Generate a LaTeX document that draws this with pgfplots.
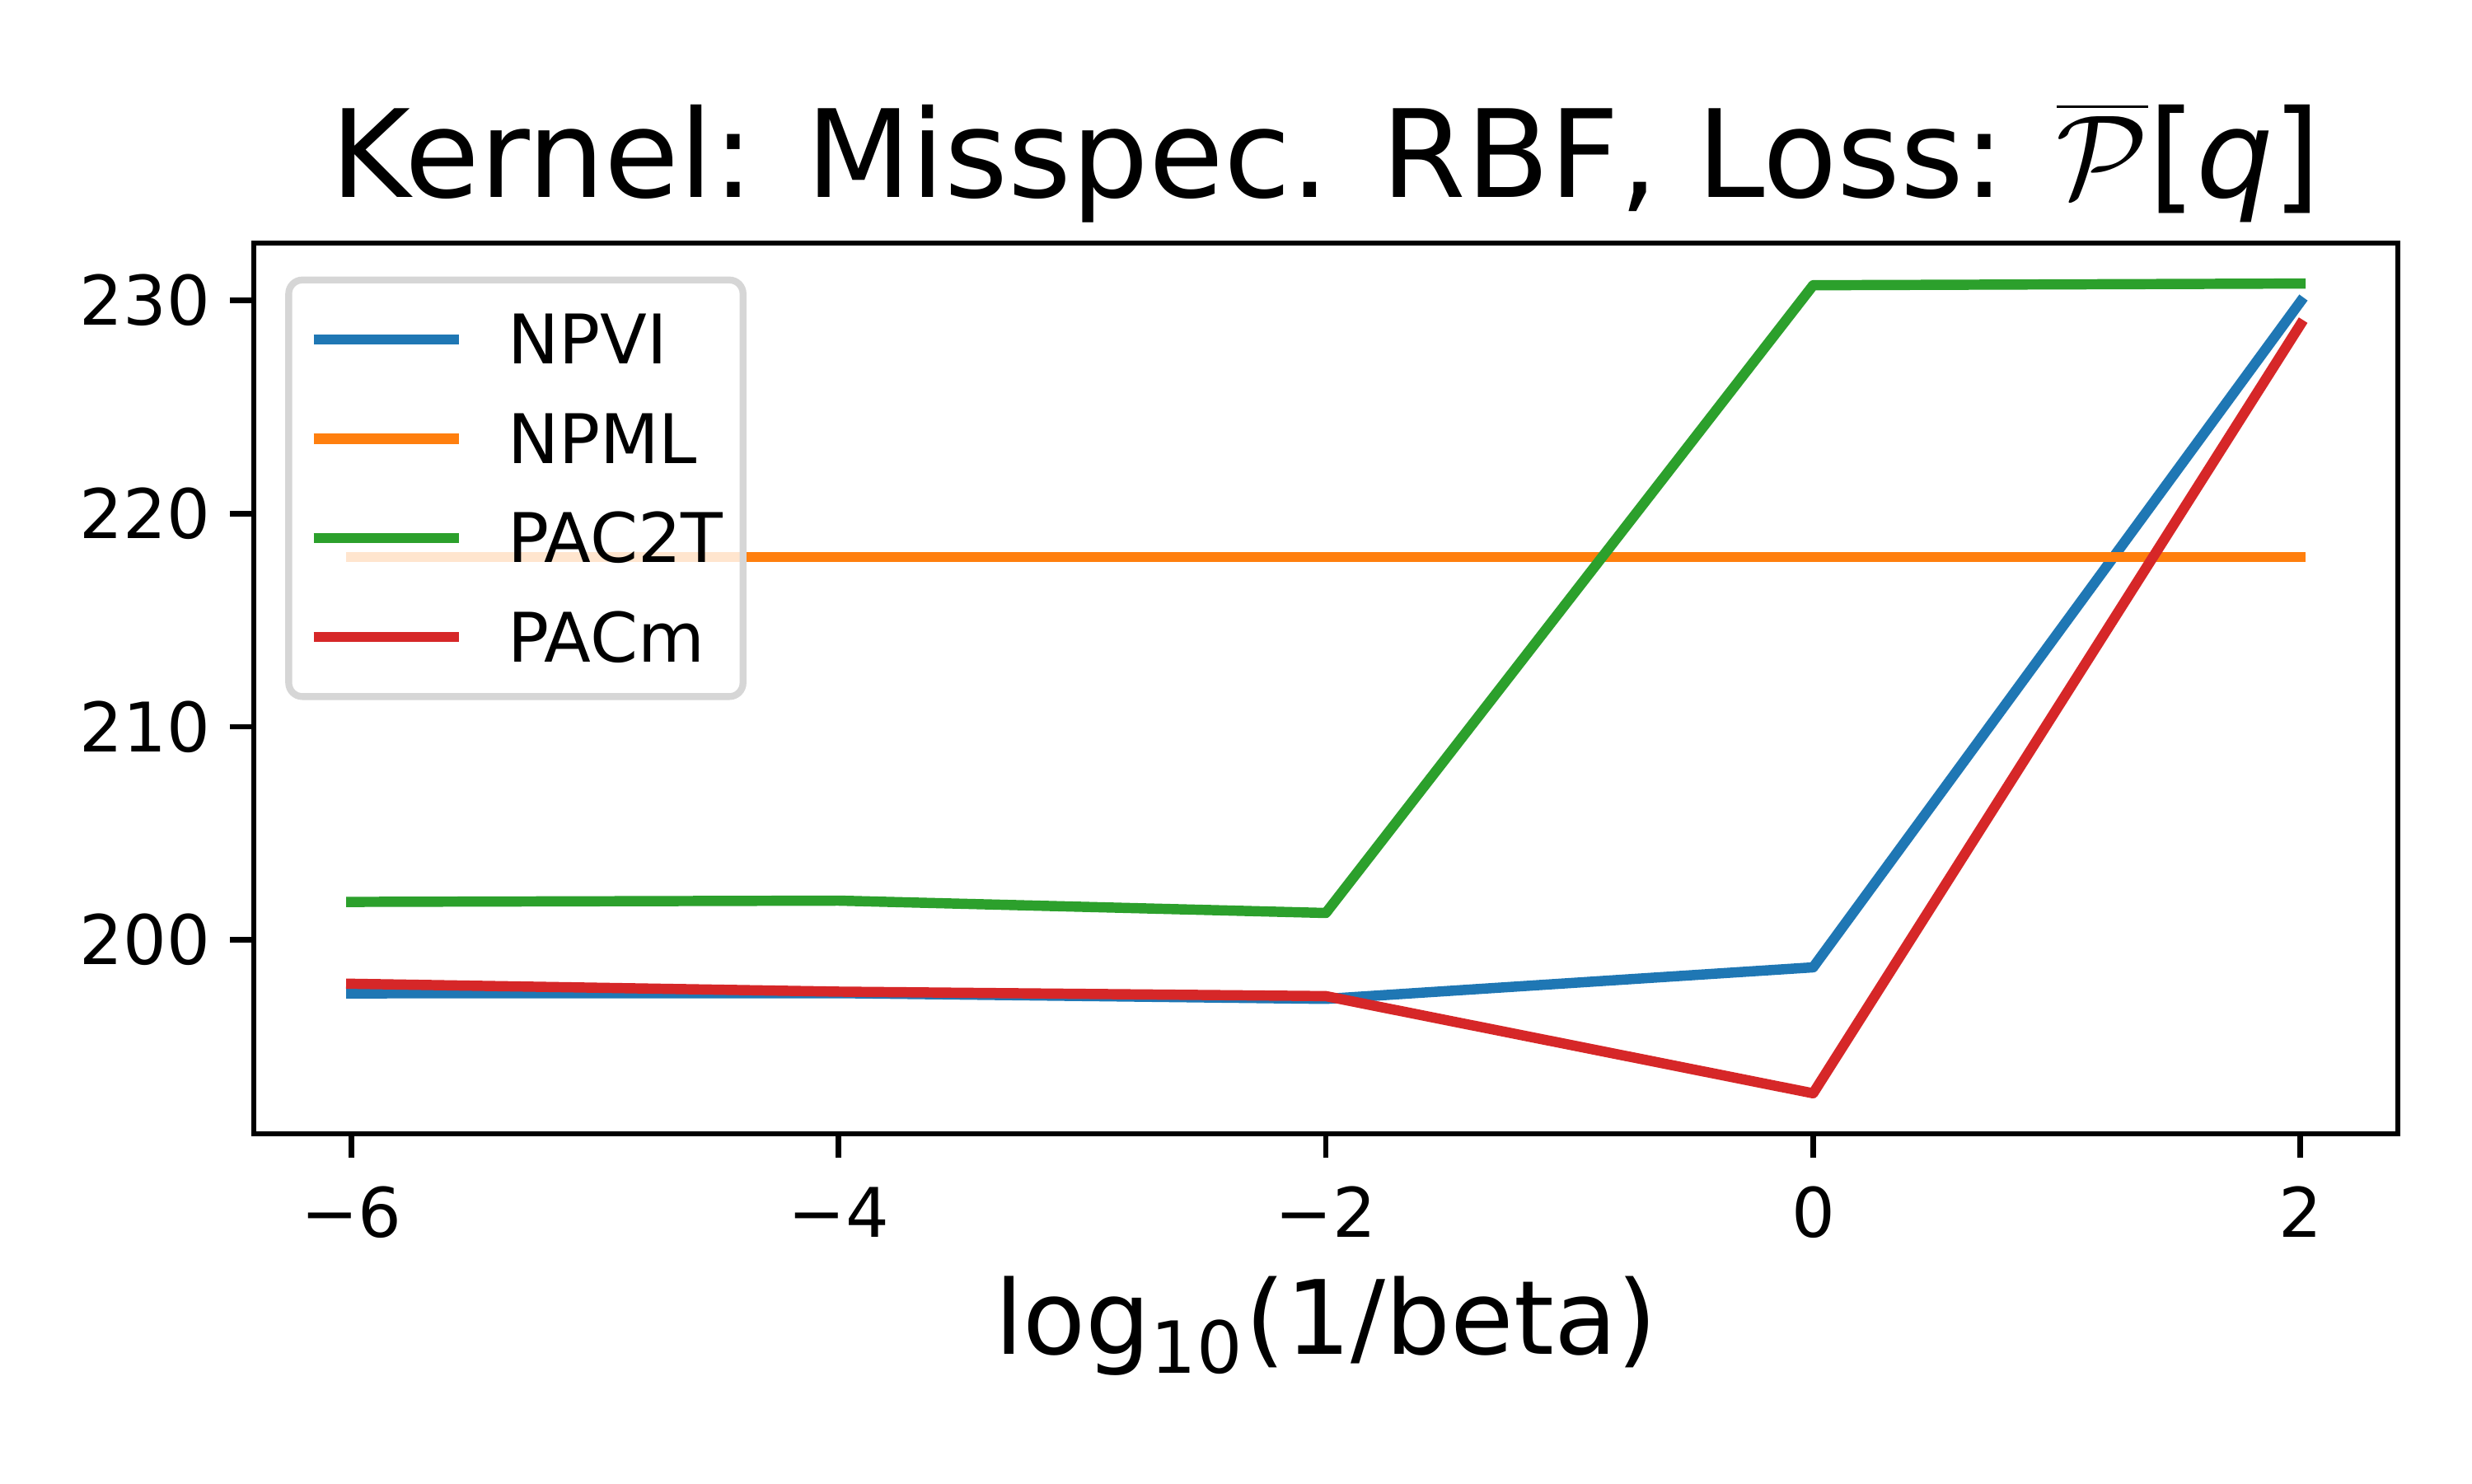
\documentclass[border=0pt]{standalone}
\usepackage{pgfplots}
\pgfplotsset{compat=1.18}
\usepackage{fontspec}
\setmainfont{DejaVu Sans}
\definecolor{c0}{HTML}{1F77B4}
\definecolor{c1}{HTML}{FF7F0E}
\definecolor{c2}{HTML}{2CA02C}
\definecolor{c3}{HTML}{D62728}
\definecolor{legframe}{HTML}{D6D6D6}
\begin{document}
\begin{tikzpicture}
\begin{axis}[
  scale only axis, width=313.42pt, height=130.21pt,
  xmin=-6.4, xmax=2.4, ymin=190.90, ymax=232.69,
  xtick={-6,-4,-2,0,2}, xticklabels={−6,−4,−2,0,2},
  ytick={200,210,220,230},
  /pgf/number format/assume math mode=true,
  tick align=outside, major tick length=3.5pt,
  xtick pos=bottom, ytick pos=left,
  every tick/.style={black, line width=0.8pt},
  axis line style={line width=0.8pt},
  ticklabel style={font=\fontsize{10}{12}\selectfont},
  xticklabel style={anchor=base, inner sep=0pt, yshift=-11.6pt},
  yticklabel style={anchor=east, inner sep=0pt, xshift=-2.7pt},
  title={Kernel: Misspec. RBF, Loss: \(\overline{\mathcal{P}}\)[\textit{q}]},
  title style={at={(axis description cs:0.5,1)}, anchor=base, inner sep=0pt, yshift=0.7pt, font=\fontsize{17.8}{21.6}\selectfont},
  xlabel={log\textsubscript{10}(1/beta)},
  xlabel style={at={(axis description cs:0.5,0)}, anchor=base, inner sep=0pt, yshift=-32.2pt, font=\fontsize{15}{18}\selectfont},
  legend cell align=left,
  legend style={
    at={(axis description cs:0.0147,0.9624)}, anchor=north west,
    draw=legframe, line width=1pt, fill=white, fill opacity=0.8, text opacity=1,
    rounded corners=2pt, inner xsep=2.9pt, inner ysep=3.7pt,
    row sep=4.5pt, column sep=6.4pt,
    font=\fontsize{10}{12}\selectfont,
    nodes={inner sep=0pt, text height=8.6pt, text depth=1.4pt},
  },
  legend image code/.code={\draw[#1, line width=1.5pt, line cap=butt] (0pt,0pt) -- (21.2pt,0pt);},
  every axis plot/.append style={line width=1.5pt, line cap=rect, line join=round, mark=none},
]
\addplot[c0] coordinates {(-6,197.49) (-4,197.50) (-2,197.23) (0,198.71) (2,229.94)};
\addlegendentry{NPVI}
\addplot[c1] coordinates {(-6,217.96) (-4,217.96) (-2,217.96) (0,217.96) (2,217.96)};
\addlegendentry{NPML}
\addplot[c2] coordinates {(-6,201.78) (-4,201.84) (-2,201.26) (0,230.71) (2,230.79)};
\addlegendentry{PAC2T}
\addplot[c3] coordinates {(-6,197.94) (-4,197.57) (-2,197.36) (0,192.80) (2,228.87)};
\addlegendentry{PACm}
\end{axis}
\pgfresetboundingbox
\path[use as bounding box] ([shift={(-37.10pt,-51.07pt)}]current axis.south west) rectangle ++(361.35pt,216.81pt);
\end{tikzpicture}
\end{document}
